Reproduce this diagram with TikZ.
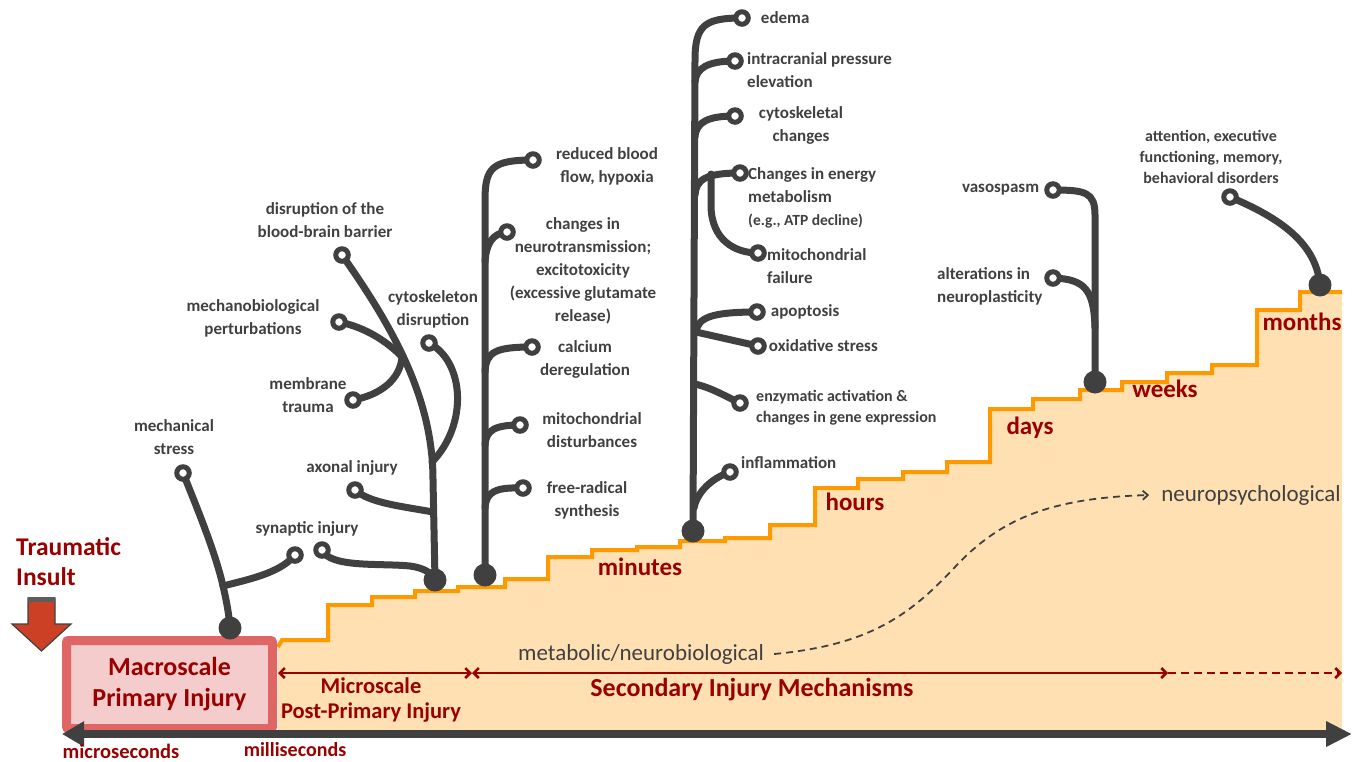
\documentclass[tikz,border=0pt]{standalone}
\usepackage{fontspec}
\setmainfont{Carlito}
\usetikzlibrary{positioning,arrows.meta}
\definecolor{stem}{HTML}{404040}
\definecolor{injred}{HTML}{990000}
\definecolor{peach}{HTML}{FFE0B3}
\definecolor{stairline}{HTML}{FF9900}
\definecolor{boxfill}{HTML}{F4CCCC}
\definecolor{boxline}{HTML}{E06666}
\definecolor{insult}{HTML}{CC4125}
\pgfdeclarelayer{bg}
\pgfdeclarelayer{mid}
\pgfsetlayers{bg,mid,main}
\newcommand{\stairpath}{(282,640) -| (328,605) -| (372,597) -| (415,591) -| (458,587) -| (505,579)
  -| (548,557) -| (592,550) -| (637,547) -| (680,541) -| (725,538) -| (770,525) -| (815,488)
  -| (858,479) -| (903,472) -| (947,462) -| (990,409) -| (1033,399) -| (1080,390) -| (1122,382)
  -| (1167,373) -| (1212,365) -| (1257,310) -| (1300,292) -- (1342,292)}

\begin{document}
\begin{tikzpicture}[x=1pt,y=-1pt,
    branch/.style={stem, line width=7pt, line cap=round},
    ring/.style={circle, draw=stem, fill=white, line width=5pt, inner sep=0pt, minimum size=12.5pt},
    root/.style={circle, fill=stem, inner sep=0pt, minimum size=23pt},
    lbl/.style={text=stem, font=\fontsize{17}{23}\selectfont\bfseries, align=center, inner sep=0pt},
    smalllbl/.style={lbl, font=\fontsize{16}{21}\selectfont\bfseries},
    stage/.style={text=injred, font=\fontsize{25}{29}\selectfont\bfseries, align=center, inner sep=0pt},
    phase/.style={injred, line width=2.5pt},
    phasetip/.tip={Straight Barb[length=5pt,width=10pt]},
    note/.style={text=stem, font=\fontsize{23}{26}\selectfont, inner sep=0pt}]
    \useasboundingbox (0,0) rectangle (1357,761);

    \begin{pgfonlayer}{bg}
    \fill[peach] (278,730) -- (278,647) -- \stairpath -- (1342,730) -- cycle;
    \draw[stairline, line width=4pt] (278,647) -- \stairpath;
    \end{pgfonlayer}

    \node[draw=boxline, fill=boxfill, line width=9pt, rounded corners=2pt, minimum width=206pt, minimum height=88pt,
        stage, font=\fontsize{26}{31}\selectfont\bfseries] (macro) at (169.5,684.5) {Macroscale\\Primary Injury};

    \coordinate (ax0) at (62,734);
    \coordinate (ax1) at (1352,734);
    \draw[stem, line width=8pt, {Triangle[length=22pt,width=24pt]}-{Triangle[length=26pt,width=24pt]}] (ax0) -- (ax1);

    \coordinate (p0) at (278,673);
    \coordinate (p1) at (472,673);
    \coordinate (p2) at (1168,673);
    \coordinate (p3) at (1342,673);
    \draw[phase, phasetip-phasetip] (p0) -- (p1);
    \draw[phase, phasetip-phasetip] (p1) -- (p2);
    \draw[phase, dash pattern=on 8pt off 5pt, -phasetip] (p2) -- (p3);

    \node[stage, font=\fontsize{22.5}{25}\selectfont\bfseries] (t-micro) at (371,700) {Microscale\\Post-Primary Injury};
    \node[stage, font=\fontsize{26}{29}\selectfont\bfseries] (t-sec) at (752,690) {Secondary Injury Mechanisms};
    \node[stage, font=\fontsize{20.5}{22}\selectfont\bfseries] (t-musec) at (121,751) {microseconds};
    \node[stage, font=\fontsize{20}{22}\selectfont\bfseries] (t-msec) at (295,750) {milliseconds};
    \node[stage, anchor=west, align=left, font=\fontsize{25.5}{30}\selectfont\bfseries] (t-insult) at (16,562) {Traumatic\\Insult};
    \filldraw[fill=insult, draw=stem, line width=1.2pt] (28,598) -- (55,598) -- (55,624) -- (71,624) -- (41.5,651) -- (12,624) -- (28,624) -- cycle;
    \fill[stem!85] (28,597) rectangle (55,602);

    \node[note] (t-meta) at (641,654) {metabolic/neurobiological};
    \node[note] (t-psy) at (1251,495) {neuropsychological};
    \draw[stem, line width=1.8pt, dash pattern=on 7pt off 5pt, -{Straight Barb[length=5pt,width=9pt]}]
        ([xshift=10pt]t-meta.east) .. controls (870,645) and (910,615) .. (955,567)
        .. controls (1000,519) and (1050,498) .. ([xshift=-12pt]t-psy.west);

    \node[stage] at (640,567) {minutes};
    \node[stage] at (855,502) {hours};
    \node[stage] at (1030,428) {days};
    \node[stage] at (1165,389) {weeks};
    \node[stage] at (1302,322) {months};

    \node[root] (d-macro) at (230,628) {};
    \node[ring] (r-mech) at (183,473) {};
    \node[ring] (r-syn1) at (295,555) {};
    \coordinate (j-mech) at (223,586);

    \node[root] (d-micro) at (435,580) {};
    \node[ring] (r-bbb) at (342,255) {};
    \node[ring] (r-mechbio) at (339,322) {};
    \node[ring] (r-membr) at (353,400) {};
    \node[ring] (r-cytod) at (429,343) {};
    \node[ring] (r-axon) at (355,490) {};
    \node[ring] (r-syn2) at (322,550) {};
    \coordinate (j-bio) at (402,357);
    \coordinate (j-cyto) at (432,462);
    \coordinate (j-axon) at (433,512);

    \node[root] (d-sec) at (485,575) {};
    \node[ring] (r-blood) at (533,160) {};
    \node[ring] (r-neuro) at (507,232) {};
    \node[ring] (r-calc) at (532,347) {};
    \node[ring] (r-mitod) at (520,425) {};
    \node[ring] (r-frad) at (523,488) {};
    \coordinate (j-neuro) at (485,262);
    \coordinate (j-calc) at (485,372);
    \coordinate (j-mitod) at (485,445);
    \coordinate (j-frad) at (485,508);

    \node[root] (d-min) at (693,531) {};
    \node[ring] (r-edema) at (742,18) {};
    \node[ring] (r-icp) at (735,61) {};
    \node[ring] (r-cytoc) at (735,116) {};
    \node[ring] (r-energy) at (740,173) {};
    \node[ring] (r-mitof) at (758,253) {};
    \node[ring] (r-apop) at (757,312) {};
    \node[ring] (r-oxid) at (758,346) {};
    \node[ring] (r-enz) at (740,403) {};
    \node[ring] (r-infl) at (730,472) {};
    \coordinate (j-icp) at (695,82);
    \coordinate (j-cytoc) at (695,137);
    \coordinate (j-energy) at (695,195);
    \coordinate (j-mitof) at (711,174);
    \coordinate (j-apop) at (696,332);
    \coordinate (j-enz) at (695,384);
    \coordinate (j-infl) at (694,508);

    \node[root] (d-week) at (1095,382) {};
    \node[ring] (r-vaso) at (1053,190) {};
    \node[ring] (r-plast) at (1053,278) {};
    \coordinate (j-plast) at (1095,328);

    \node[root] (d-month) at (1320,285) {};
    \node[ring] (r-att) at (1230,197) {};

    \begin{pgfonlayer}{mid}
    \draw[branch] (r-mech.center) .. controls (200,515) and (216,555) .. (j-mech) .. controls (227,603) and (229,615) .. (d-macro.center);
    \draw[branch] (j-mech) .. controls (250,579) and (280,573) .. (r-syn1.center);

    \draw[branch] (r-bbb.center) .. controls (395,330) and (433,400) .. (433,480) -- (d-micro.center);
    \draw[branch] (r-mechbio.center) .. controls (365,327) and (388,342) .. (j-bio);
    \draw[branch] (r-membr.center) .. controls (380,395) and (400,380) .. (j-bio);
    \draw[branch] (r-cytod.center) .. controls (465,362) and (468,425) .. (j-cyto);
    \draw[branch] (r-axon.center) .. controls (370,503) and (400,506) .. (j-axon);
    \draw[branch] (r-syn2.center) .. controls (330,568) and (380,563) .. (410,566) .. controls (425,568) and (433,574) .. (d-micro.center);

    \draw[branch] (d-sec.center) -- (485,200) .. controls (485,168) and (492,160) .. (r-blood.center);
    \draw[branch] (j-neuro) .. controls (486,245) and (492,233) .. (r-neuro.center);
    \draw[branch] (j-calc) .. controls (486,352) and (495,347) .. (r-calc.center);
    \draw[branch] (j-mitod) .. controls (486,430) and (495,425) .. (r-mitod.center);
    \draw[branch] (j-frad) .. controls (486,492) and (495,487) .. (r-frad.center);

    \draw[branch] (d-min.center) -- (695,60) .. controls (695,25) and (705,18) .. (r-edema.center);
    \draw[branch] (j-icp) .. controls (696,68) and (708,61) .. (r-icp.center);
    \draw[branch] (j-cytoc) .. controls (696,122) and (708,116) .. (r-cytoc.center);
    \draw[branch] (j-energy) .. controls (696,180) and (705,173) .. (r-energy.center);
    \draw[branch] (j-mitof) -- (711,205) .. controls (711,240) and (735,253) .. (r-mitof.center);
    \draw[branch] (j-apop) .. controls (698,318) and (710,312) .. (r-apop.center);
    \draw[branch] (j-apop) -- (r-oxid.center);
    \draw[branch] (j-enz) .. controls (712,388) and (725,396) .. (r-enz.center);
    \draw[branch] (j-infl) .. controls (697,492) and (712,478) .. (r-infl.center);

    \draw[branch] (d-week.center) -- (1095,215) .. controls (1095,192) and (1085,190) .. (r-vaso.center);
    \draw[branch] (j-plast) .. controls (1094,290) and (1085,279) .. (r-plast.center);

    \draw[branch] (r-att.center) .. controls (1280,218) and (1316,243) .. (d-month.center);
    \end{pgfonlayer}

    \node[lbl] (t-mech) at (174,437) {mechanical\\stress};
    \node[lbl] (t-syn) at (307,529) {synaptic injury};
    \node[lbl] (t-axon) at (352,468) {axonal injury};
    \node[lbl] (t-membr) at (308,395) {membrane\\trauma};
    \node[lbl] (t-mechbio) at (253,318) {mechanobiological\\perturbations};
    \node[lbl] (t-bbb) at (325,220) {disruption of the\\blood-brain barrier};
    \node[lbl] (t-cytod) at (433,309) {cytoskeleton\\disruption};

    \node[lbl] (t-blood) at (607,166) {reduced blood\\flow, hypoxia};
    \node[lbl] (t-neuro) at (583,271) {changes in\\neurotransmission;\\excitotoxicity\\(excessive glutamate\\release)};
    \node[lbl] (t-calc) at (585,359) {calcium\\deregulation};
    \node[lbl] (t-mitod) at (592,430) {mitochondrial\\disturbances};
    \node[lbl] (t-frad) at (587,500) {free-radical\\synthesis};

    \node[lbl, right=10pt of r-edema] (t-edema) {edema};
    \node[lbl, anchor=west, align=left] (t-icp) at (747,70) {intracranial pressure\\elevation};
    \node[lbl] (t-cytoc) at (801,125) {cytoskeletal\\changes};
    \node[lbl, anchor=west, align=left] (t-energy) at (748,198) {Changes in energy\\metabolism\\{\fontsize{15.5}{21}\selectfont(e.g., ATP decline)}};
    \node[lbl, anchor=west, align=left] (t-mitof) at (767,266) {mitochondrial\\failure};
    \node[lbl, right=5pt of r-apop] (t-apop) {apoptosis};
    \node[lbl, right=2pt of r-oxid] (t-oxid) {oxidative stress};
    \node[smalllbl, anchor=west, align=left] (t-enz) at (756,408) {enzymatic activation \&\\changes in gene expression};
    \node[lbl, anchor=west] (t-infl) at (741,463) {inflammation};

    \node[lbl, left=5pt of r-vaso] (t-vaso) {vasospasm};
    \node[lbl, anchor=west, align=left] (t-plast) at (937,286) {alterations in\\neuroplasticity};
    \node[smalllbl] (t-att) at (1211,157) {attention, executive\\functioning, memory,\\behavioral disorders};
\end{tikzpicture}
\end{document}
